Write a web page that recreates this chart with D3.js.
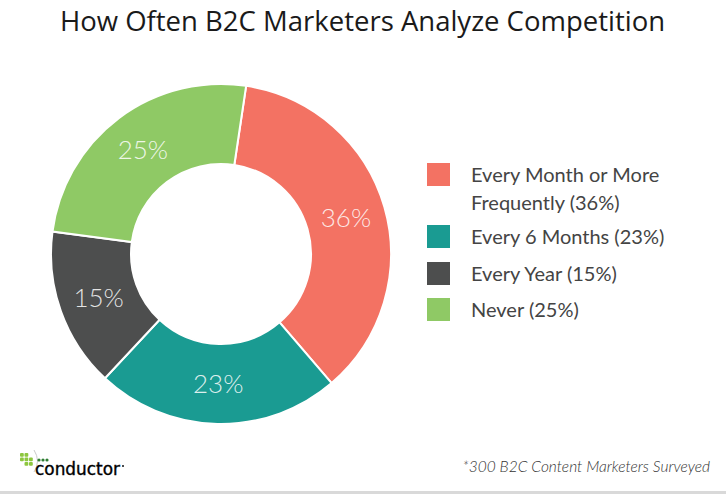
<!DOCTYPE html>
<html><head><meta charset="utf-8">
<script src="https://cdn.jsdelivr.net/npm/d3@7"></script>
<style>body{margin:0;background:#fff}svg{display:block}</style>
</head><body>
<script>
const categories = ["Every Month or More Frequently", "Every 6 Months", "Every Year", "Never"];
const values = [36, 23, 15, 25];
const legendLines = [["Every Month or More", "Frequently (36%)"], ["Every 6 Months (23%)"], ["Every Year (15%)"], ["Never (25%)"]];
const colors = ["#F37263", "#1A9B92", "#4D4E4E", "#8FC965"];
const title = "How Often B2C Marketers Analyze Competition";
const footnote = "*300 B2C Content Marketers Surveyed";

const W = 726, H = 494;
const svg = d3.select("body").append("svg").attr("width", W).attr("height", H);

svg.append("text").attr("x", 362.5).attr("y", 31).attr("text-anchor", "middle")
  .attr("font-family", "Open Sans").attr("font-size", 27.5).attr("fill", "#1a1a1a").text(title);

const cx = 221, cy = 254, rOut = 170, rIn = 90;
const pie = d3.pie().sort(null).startAngle(8.5 * Math.PI / 180).endAngle(8.5 * Math.PI / 180 + 2 * Math.PI);
const arcs = pie(values);
const arc = d3.arc().innerRadius(rIn).outerRadius(rOut);
const labelArc = d3.arc().innerRadius(130).outerRadius(130);
const g = svg.append("g").attr("transform", `translate(${cx},${cy})`);
g.selectAll("path").data(arcs).join("path")
  .attr("d", arc).attr("fill", (d, i) => colors[i])
  .attr("stroke", "#fff").attr("stroke-width", 2);
g.selectAll("text").data(arcs).join("text")
  .attr("transform", d => `translate(${labelArc.centroid(d)})`)
  .attr("text-anchor", "middle").attr("dy", "0.36em")
  .attr("font-family", "Lato").attr("font-weight", 300).attr("font-size", 26)
  .attr("fill", "#fff").attr("fill-opacity", 0.85)
  .text(d => d.data + "%");

// legend
const legendY = [163, 225, 262, 298];
const lg = svg.append("g");
legendLines.forEach((lines, i) => {
  lg.append("rect").attr("x", 427).attr("y", legendY[i]).attr("width", 23).attr("height", 23).attr("fill", colors[i]);
  lines.forEach((t, j) => {
    lg.append("text").attr("x", 471).attr("y", legendY[i] + 19 + j * 28)
      .attr("font-family", "Lato").attr("font-size", 20).attr("fill", "#444").text(t);
  });
});

// footnote
svg.append("text").attr("x", 710).attr("y", 472).attr("text-anchor", "end")
  .attr("font-family", "Lato").attr("font-style", "italic").attr("font-weight", 300)
  .attr("font-size", 15.5).attr("fill", "#333").text(footnote);

// logo
const logo = svg.append("g").attr("transform", "translate(20,453)");
const sq = [[0,0],[4.5,0],[0,4.5],[4.5,4.5],[9,4.5],[4.5,9],[9,9]];
logo.selectAll("rect").data(sq).join("rect")
  .attr("x", d => d[0]).attr("y", d => d[1]).attr("width", 3.8).attr("height", 3.8).attr("rx", 1)
  .attr("fill", "#8DC63F");
logo.append("path").attr("d", "M14,-3 Q21,8 14,19").attr("fill", "none").attr("stroke", "#bbb").attr("stroke-width", 0.8);
[0,1,2].forEach(k => logo.append("circle").attr("cx", 19 + k * 4).attr("cy", 7).attr("r", 1.6).attr("fill", "#2E7D32"));
logo.append("text").attr("x", 15).attr("y", 22).attr("font-family", "DejaVu Sans")
  .attr("font-size", 18).attr("fill", "#000").attr("stroke", "#000").attr("stroke-width", 0.4)
  .attr("textLength", 85).attr("lengthAdjust", "spacingAndGlyphs").text("conductor");
logo.append("circle").attr("cx", 103).attr("cy", 13).attr("r", 1).attr("fill", "#111");

svg.append("rect").attr("x", 0).attr("y", 491).attr("width", W).attr("height", 3).attr("fill", "#d9d9d9");
</script>
</body></html>
